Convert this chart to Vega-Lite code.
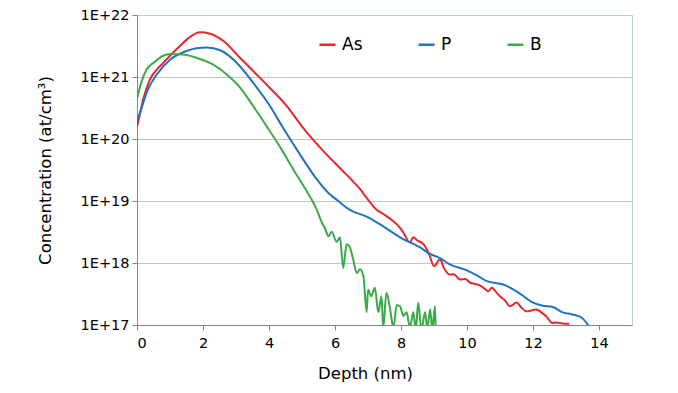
{
  "$schema": "https://vega.github.io/schema/vega-lite/v6.json",
  "width": 495,
  "height": 310,
  "autosize": {"type": "none"},
  "padding": {"left": 137, "top": 15, "right": 46, "bottom": 68},
  "background": "white",
  "config": {
    "font": "DejaVu Sans",
    "view": {"stroke": "#b8cce4", "strokeWidth": 1}
  },
  "data": {
    "values": [
      {"s": "As", "x": 0, "y": 1.58e20},
      {"s": "As", "x": 0.1, "y": 2.7e20},
      {"s": "As", "x": 0.19, "y": 4.4e20},
      {"s": "As", "x": 0.39, "y": 9.1e20},
      {"s": "As", "x": 0.6, "y": 1.32e21},
      {"s": "As", "x": 0.8, "y": 1.7e21},
      {"s": "As", "x": 1.05, "y": 2.35e21},
      {"s": "As", "x": 1.3, "y": 3.16e21},
      {"s": "As", "x": 1.6, "y": 4.4e21},
      {"s": "As", "x": 1.91, "y": 5.25e21},
      {"s": "As", "x": 2.21, "y": 5.0e21},
      {"s": "As", "x": 2.62, "y": 3.8e21},
      {"s": "As", "x": 3.12, "y": 2.04e21},
      {"s": "As", "x": 3.83, "y": 8.5e20},
      {"s": "As", "x": 4.54, "y": 3.4e20},
      {"s": "As", "x": 5.04, "y": 1.5e20},
      {"s": "As", "x": 5.6, "y": 6.8e19},
      {"s": "As", "x": 6.2, "y": 3.2e19},
      {"s": "As", "x": 6.5, "y": 2.2e19},
      {"s": "As", "x": 6.76, "y": 1.55e19},
      {"s": "As", "x": 7.0, "y": 1.05e19},
      {"s": "As", "x": 7.26, "y": 7.2e18},
      {"s": "As", "x": 7.5, "y": 6.0e18},
      {"s": "As", "x": 7.77, "y": 4.7e18},
      {"s": "As", "x": 7.97, "y": 3.7e18},
      {"s": "As", "x": 8.07, "y": 3.1e18},
      {"s": "As", "x": 8.27, "y": 2.15e18},
      {"s": "As", "x": 8.37, "y": 2.6e18},
      {"s": "As", "x": 8.5, "y": 2.3e18},
      {"s": "As", "x": 8.69, "y": 2.0e18},
      {"s": "As", "x": 8.85, "y": 1.4e18},
      {"s": "As", "x": 9.0, "y": 8.9e17},
      {"s": "As", "x": 9.18, "y": 1.15e18},
      {"s": "As", "x": 9.3, "y": 8.3e17},
      {"s": "As", "x": 9.48, "y": 6.5e17},
      {"s": "As", "x": 9.6, "y": 6.6e17},
      {"s": "As", "x": 9.79, "y": 5.4e17},
      {"s": "As", "x": 9.95, "y": 5.5e17},
      {"s": "As", "x": 10.1, "y": 4.8e17},
      {"s": "As", "x": 10.25, "y": 4.6e17},
      {"s": "As", "x": 10.4, "y": 4.3e17},
      {"s": "As", "x": 10.55, "y": 3.8e17},
      {"s": "As", "x": 10.65, "y": 3.5e17},
      {"s": "As", "x": 10.75, "y": 4.0e17},
      {"s": "As", "x": 10.9, "y": 3.3e17},
      {"s": "As", "x": 11.0, "y": 2.9e17},
      {"s": "As", "x": 11.15, "y": 2.5e17},
      {"s": "As", "x": 11.3, "y": 2.0e17},
      {"s": "As", "x": 11.5, "y": 2.3e17},
      {"s": "As", "x": 11.65, "y": 1.9e17},
      {"s": "As", "x": 11.8, "y": 1.66e17},
      {"s": "As", "x": 12.1, "y": 1.78e17},
      {"s": "As", "x": 12.25, "y": 1.6e17},
      {"s": "As", "x": 12.4, "y": 1.38e17},
      {"s": "As", "x": 12.6, "y": 1.07e17},
      {"s": "As", "x": 12.7, "y": 1.1e17},
      {"s": "As", "x": 12.9, "y": 1.06e17},
      {"s": "As", "x": 13.1, "y": 1.05e17},
      {"s": "P", "x": 0, "y": 1.95e20},
      {"s": "P", "x": 0.15, "y": 3.3e20},
      {"s": "P", "x": 0.29, "y": 5.6e20},
      {"s": "P", "x": 0.6, "y": 1.1e21},
      {"s": "P", "x": 1.0, "y": 1.9e21},
      {"s": "P", "x": 1.5, "y": 2.63e21},
      {"s": "P", "x": 1.8, "y": 2.9e21},
      {"s": "P", "x": 2.11, "y": 3.0e21},
      {"s": "P", "x": 2.52, "y": 2.7e21},
      {"s": "P", "x": 3.02, "y": 1.7e21},
      {"s": "P", "x": 3.52, "y": 8.1e20},
      {"s": "P", "x": 4.03, "y": 3.4e20},
      {"s": "P", "x": 4.43, "y": 1.5e20},
      {"s": "P", "x": 4.84, "y": 6.8e19},
      {"s": "P", "x": 5.45, "y": 2.24e19},
      {"s": "P", "x": 5.8, "y": 1.35e19},
      {"s": "P", "x": 6.1, "y": 1.0e19},
      {"s": "P", "x": 6.45, "y": 7.2e18},
      {"s": "P", "x": 6.96, "y": 5.6e18},
      {"s": "P", "x": 7.46, "y": 3.9e18},
      {"s": "P", "x": 7.97, "y": 2.6e18},
      {"s": "P", "x": 8.58, "y": 1.78e18},
      {"s": "P", "x": 8.88, "y": 1.4e18},
      {"s": "P", "x": 9.18, "y": 1.2e18},
      {"s": "P", "x": 9.48, "y": 9.5e17},
      {"s": "P", "x": 10.0, "y": 7.6e17},
      {"s": "P", "x": 10.3, "y": 6.3e17},
      {"s": "P", "x": 10.6, "y": 5.1e17},
      {"s": "P", "x": 11.1, "y": 4.5e17},
      {"s": "P", "x": 11.5, "y": 3.5e17},
      {"s": "P", "x": 12.0, "y": 2.3e17},
      {"s": "P", "x": 12.3, "y": 2.05e17},
      {"s": "P", "x": 12.6, "y": 1.95e17},
      {"s": "P", "x": 12.9, "y": 1.6e17},
      {"s": "P", "x": 13.2, "y": 1.48e17},
      {"s": "P", "x": 13.47, "y": 1.32e17},
      {"s": "P", "x": 13.7, "y": 0.95e17},
      {"s": "B", "x": 0, "y": 4.4e20},
      {"s": "B", "x": 0.07, "y": 6.3e20},
      {"s": "B", "x": 0.14, "y": 8.5e20},
      {"s": "B", "x": 0.29, "y": 1.32e21},
      {"s": "B", "x": 0.5, "y": 1.7e21},
      {"s": "B", "x": 0.8, "y": 2.2e21},
      {"s": "B", "x": 1.0, "y": 2.35e21},
      {"s": "B", "x": 1.4, "y": 2.3e21},
      {"s": "B", "x": 1.91, "y": 1.95e21},
      {"s": "B", "x": 2.31, "y": 1.58e21},
      {"s": "B", "x": 2.72, "y": 1.1e21},
      {"s": "B", "x": 3.12, "y": 6.8e20},
      {"s": "B", "x": 3.52, "y": 3.4e20},
      {"s": "B", "x": 3.93, "y": 1.6e20},
      {"s": "B", "x": 4.38, "y": 6.8e19},
      {"s": "B", "x": 4.74, "y": 3.2e19},
      {"s": "B", "x": 5.14, "y": 1.45e19},
      {"s": "B", "x": 5.45, "y": 7.2e18},
      {"s": "B", "x": 5.6, "y": 4.5e18},
      {"s": "B", "x": 5.7, "y": 3.6e18},
      {"s": "B", "x": 5.8, "y": 2.7e18},
      {"s": "B", "x": 5.9, "y": 3.2e18},
      {"s": "B", "x": 6.05, "y": 2.2e18},
      {"s": "B", "x": 6.15, "y": 2.6e18},
      {"s": "B", "x": 6.25, "y": 8.3e17},
      {"s": "B", "x": 6.35, "y": 2.0e18},
      {"s": "B", "x": 6.45, "y": 1.8e18},
      {"s": "B", "x": 6.55, "y": 1.15e18},
      {"s": "B", "x": 6.66, "y": 6.9e17},
      {"s": "B", "x": 6.76, "y": 7.9e17},
      {"s": "B", "x": 6.86, "y": 6.2e17},
      {"s": "B", "x": 6.96, "y": 1.6e17},
      {"s": "B", "x": 7.0, "y": 3.7e17},
      {"s": "B", "x": 7.1, "y": 2.9e17},
      {"s": "B", "x": 7.21, "y": 4.0e17},
      {"s": "B", "x": 7.31, "y": 1.6e17},
      {"s": "B", "x": 7.41, "y": 2.9e17},
      {"s": "B", "x": 7.46, "y": 0.9e17},
      {"s": "B", "x": 7.56, "y": 3.3e17},
      {"s": "B", "x": 7.67, "y": 1.8e17},
      {"s": "B", "x": 7.77, "y": 0.9e17},
      {"s": "B", "x": 7.87, "y": 2.1e17},
      {"s": "B", "x": 7.97, "y": 2.0e17},
      {"s": "B", "x": 8.07, "y": 1.4e17},
      {"s": "B", "x": 8.17, "y": 1.6e17},
      {"s": "B", "x": 8.27, "y": 0.9e17},
      {"s": "B", "x": 8.37, "y": 1.6e17},
      {"s": "B", "x": 8.45, "y": 0.85e17},
      {"s": "B", "x": 8.52, "y": 2.3e17},
      {"s": "B", "x": 8.62, "y": 0.85e17},
      {"s": "B", "x": 8.73, "y": 1.6e17},
      {"s": "B", "x": 8.8, "y": 0.85e17},
      {"s": "B", "x": 8.88, "y": 1.8e17},
      {"s": "B", "x": 8.95, "y": 0.85e17},
      {"s": "B", "x": 9.03, "y": 2.0e17},
      {"s": "B", "x": 9.05, "y": 0.85e17}
    ]
  },
  "mark": {"type": "line", "strokeWidth": 2, "clip": true, "interpolate": "monotone"},
  "encoding": {
    "x": {
      "field": "x",
      "type": "quantitative",
      "scale": {"domain": [0, 15], "nice": false, "zero": false},
      "axis": {
        "values": [0, 2, 4, 6, 8, 10, 12, 14],
        "title": "Depth (nm)",
        "titleFont": "DejaVu Sans",
        "titleFontSize": 16.5,
        "titleFontWeight": "normal",
        "titleColor": "#000000",
        "titleX": 228,
        "titleY": 53,
        "titleAnchor": "middle",
        "titleBaseline": "alphabetic",
        "labelFont": "DejaVu Sans",
        "labelFontSize": 14.5,
        "labelColor": "#000000",
        "labelDx": 5,
        "labelPadding": 6,
        "tickSize": 5,
        "tickColor": "#868686",
        "domainColor": "#868686",
        "grid": false
      }
    },
    "y": {
      "field": "y",
      "type": "quantitative",
      "scale": {"type": "log", "domain": [1e17, 1e22], "nice": false},
      "axis": {
        "values": [1e17, 1e18, 1e19, 1e20, 1e21, 1e22],
        "labelExpr": "'1E+' + round(log(datum.value) / LN10)",
        "title": "Concentration (at/cm³)",
        "titleFont": "DejaVu Sans",
        "titleFontSize": 16.5,
        "titleFontWeight": "normal",
        "titleColor": "#000000",
        "titlePadding": 27,
        "labelFont": "DejaVu Sans",
        "labelFontSize": 14.5,
        "labelColor": "#000000",
        "labelPadding": 3,
        "tickSize": 5,
        "tickColor": "#868686",
        "domainColor": "#868686",
        "grid": true,
        "gridColor": {"condition": {"test": "datum.value >= 1e22", "value": "#b8cce4"}, "value": "#c4c4c4"}
      }
    },
    "color": {
      "field": "s",
      "type": "nominal",
      "sort": ["As", "P", "B"],
      "scale": {"domain": ["As", "P", "B"], "range": ["#e8262b", "#2272c3", "#3aaa47"]},
      "legend": {
        "title": null,
        "orient": "none",
        "legendX": 181,
        "legendY": 20,
        "direction": "horizontal",
        "symbolType": "stroke",
        "symbolSize": 256,
        "symbolStrokeWidth": 2.5,
        "labelFont": "DejaVu Sans",
        "labelFontSize": 17,
        "labelColor": "#000000",
        "labelOffset": 5,
        "columnPadding": 50
      }
    }
  }
}
